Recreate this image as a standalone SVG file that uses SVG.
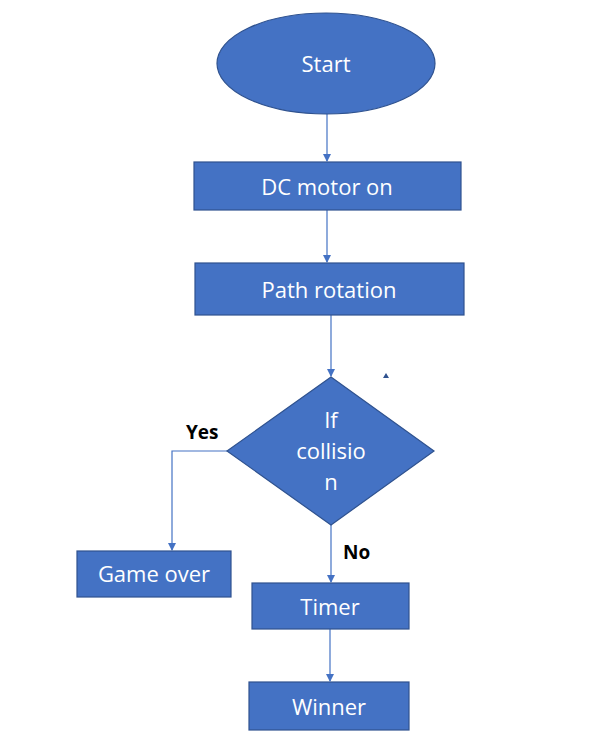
<svg xmlns="http://www.w3.org/2000/svg" width="603" height="750" viewBox="0 0 603 750">
<defs>
<style>
.n{fill:#4472C4;stroke:#2F528F;stroke-width:1.2}
.t{fill:#fff;font-family:"Open Sans","Noto Sans","DejaVu Sans",sans-serif;font-size:22px;text-anchor:middle}
.c{fill:none;stroke:#4472C4;stroke-width:1.2}
.l{fill:#000;font-family:"Open Sans","Noto Sans","DejaVu Sans",sans-serif;font-size:19px;font-weight:bold}
</style>
<marker id="a" markerWidth="8" markerHeight="8" refX="7" refY="4" orient="auto" markerUnits="userSpaceOnUse">
<path d="M0,0 L8,4 L0,8 Z" fill="#4472C4"/>
</marker>
</defs>
<rect width="603" height="750" fill="#fff"/>
<g id="connectors">
<path class="c" d="M327,114 V161" marker-end="url(#a)"/>
<path class="c" d="M327,210 V262" marker-end="url(#a)"/>
<path class="c" d="M331,315 V376" marker-end="url(#a)"/>
<path class="c" d="M227,451 H172 V550" marker-end="url(#a)"/>
<path class="c" d="M331,525 V582" marker-end="url(#a)"/>
<path class="c" d="M330,629 V681" marker-end="url(#a)"/>
<path d="M383,378 L386,373 L389,378 Z" fill="#2F528F"/>
<text class="l" x="186" y="439">Yes</text>
<text class="l" x="343" y="559">No</text>
</g>
<g id="start">
<ellipse class="n" cx="326" cy="63.5" rx="109" ry="50.5"/>
<text class="t" x="326" y="72">Start</text>
</g>
<g id="dcmotor">
<rect class="n" x="194" y="162" width="267" height="48"/>
<text class="t" x="327" y="195">DC motor on</text>
</g>
<g id="pathrot">
<rect class="n" x="195" y="263" width="269" height="52"/>
<text class="t" x="329" y="298">Path rotation</text>
</g>
<g id="collision">
<path class="n" d="M331,377 L434,451 L331,525 L227,451 Z"/>
<text class="t" x="331" y="428">If</text>
<text class="t" x="331" y="459">collisio</text>
<text class="t" x="331" y="490">n</text>
</g>
<g id="gameover">
<rect class="n" x="77" y="551" width="154" height="46"/>
<text class="t" x="154" y="582">Game over</text>
</g>
<g id="timer">
<rect class="n" x="252" y="583" width="157" height="46"/>
<text class="t" x="330" y="615">Timer</text>
</g>
<g id="winner">
<rect class="n" x="249" y="682" width="160" height="48"/>
<text class="t" x="329" y="715">Winner</text>
</g>
</svg>
